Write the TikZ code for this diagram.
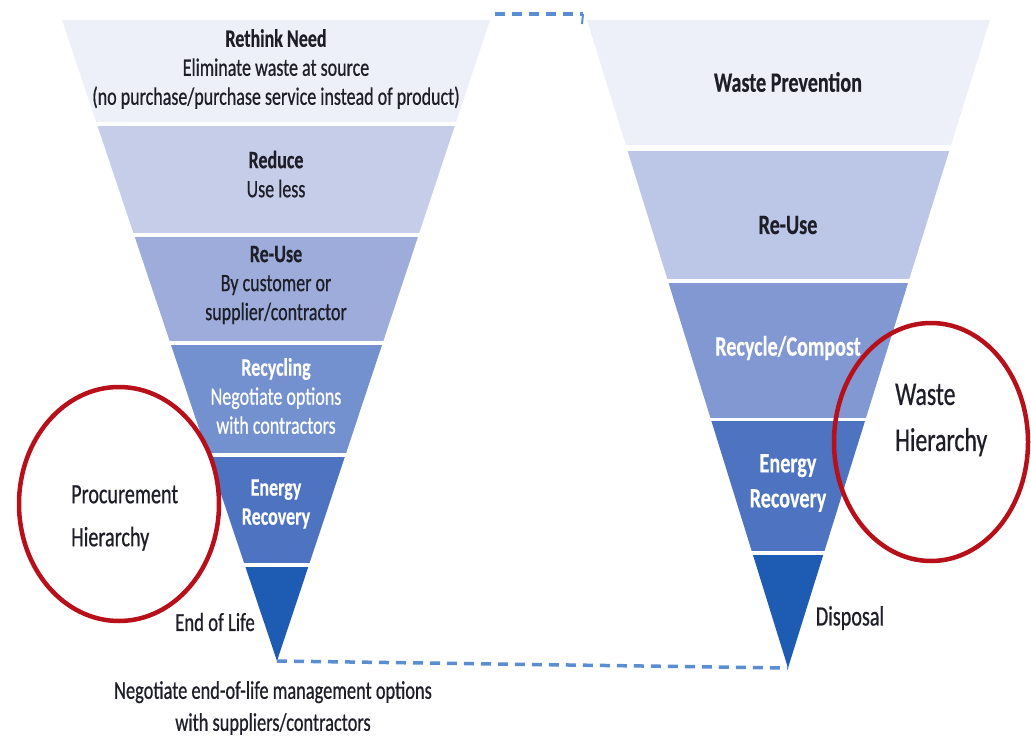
\documentclass[tikz,border=0pt]{standalone}
\usepackage{fontspec}
\setmainfont[FakeStretch=0.72, FakeBold=0.6, BoldFeatures={FakeBold=0.4}]{Carlito}
\definecolor{bandA}{HTML}{EDF0F8}
\definecolor{bandB}{HTML}{C6CDE9}
\definecolor{bandC}{HTML}{9DACDA}
\definecolor{bandD}{HTML}{7390CF}
\definecolor{bandE}{HTML}{4D73C1}
\definecolor{bandF}{HTML}{1E5CB3}
\definecolor{rbandB}{HTML}{BCC6E6}
\definecolor{rbandC}{HTML}{8198D3}
\definecolor{linkblue}{HTML}{5B8DD3}
\definecolor{ringred}{HTML}{B8101A}
\definecolor{txtdark}{HTML}{1E1E28}
\begin{document}
\begin{tikzpicture}[x=1pt,y=-1pt,
  lbl/.style={font=\fontsize{25}{29}\selectfont, align=center, inner sep=0pt, text=txtdark},
  lblw/.style={lbl, text=white},
  rlbl/.style={font=\fontsize{28}{35}\selectfont\bfseries, align=center, inner sep=0pt, text=txtdark},
  ring/.style={draw=ringred, line width=4.5pt},
  dashlink/.style={draw=linkblue, line width=3.5pt, dash pattern=on 10pt off 7pt}]
\useasboundingbox (0,0) rectangle (1031,741);
\fill[white] (0,0) rectangle (1031,741);

% left triangle
\coordinate (LTL) at (62,20);
\coordinate (LTR) at (490,20);
\coordinate (LA) at (277,661);
\begin{scope}
\clip (LTL) -- (LTR) -- (LA) -- cycle;
\fill[bandA] (0,20) rectangle (1031,122);
\fill[bandB] (0,126) rectangle (1031,233);
\fill[bandC] (0,237) rectangle (1031,341);
\fill[bandD] (0,345) rectangle (1031,453);
\fill[bandE] (0,457) rectangle (1031,563);
\fill[bandF] (0,567) rectangle (1031,670);
\end{scope}

% right triangle
\coordinate (RTL) at (587,20);
\coordinate (RTR) at (990,20);
\coordinate (RA) at (788,668);
\begin{scope}
\clip (RTL) -- (RTR) -- (RA) -- cycle;
\fill[bandA] (0,20) rectangle (1031,145);
\fill[rbandB] (0,151) rectangle (1031,279);
\fill[rbandC] (0,283) rectangle (1031,418);
\fill[bandE] (0,421) rectangle (1031,551);
\fill[bandF] (0,555) rectangle (1031,680);
\end{scope}

% dashed links
\coordinate (TopA) at (495,14);
\coordinate (TopB) at (583,14);
\coordinate (TopC) at (582,24);
\draw[dashlink] (TopA) -- (TopB);
\draw[draw=linkblue, line width=2pt] (TopB) -- (TopC);
\draw[dashlink] (LA) -- (RA);

% left labels
\node[lbl] (rethink) at (276,69) {\textbf{Rethink Need}\\Eliminate waste at source\\(no purchase/purchase service instead of product)};
\node[lbl] (reduce) at (276,174) {\textbf{Reduce}\\Use less};
\node[lbl] (reuse) at (276,285) {\textbf{Re-Use}\\By customer or\\supplier/contractor};
\node[lblw] (recycling) at (276,396) {\textbf{Recycling}\\Negotiate options\\with contractors};
\node[lblw, font=\fontsize{25}{29}\selectfont\bfseries] (energy) at (276,504) {Energy\\Recovery};
\node[lbl, font=\fontsize{26}{29}\selectfont] (endlife) at (215,622) {End of Life};
\node[lbl, font=\fontsize{28}{43}\selectfont, align=left, anchor=west] (procure) at (71,518) {Procurement\\Hierarchy};
\node[lbl, font=\fontsize{25.5}{32}\selectfont] (negotiate) at (273,708) {Negotiate end-of-life management options\\with suppliers/contractors};

% right labels
\node[rlbl] (prevent) at (788,82) {Waste Prevention};
\node[rlbl] (reuse2) at (788,225) {Re-Use};
\node[rlbl, text=white] (recycle2) at (788,348) {Recycle/Compost};
\node[rlbl, text=white] (energy2) at (788,483) {Energy\\Recovery};
\node[lbl, font=\fontsize{28}{29}\selectfont] (disposal) at (850,618) {Disposal};
\node[lbl, font=\fontsize{33}{46}\selectfont, align=left, anchor=west] (wastehier) at (895,420) {Waste\\Hierarchy};

% red rings
\draw[ring] (119,504) ellipse [x radius=100, y radius=117];
\draw[ring] (931,442) ellipse [x radius=97, y radius=119];
\end{tikzpicture}
\end{document}
